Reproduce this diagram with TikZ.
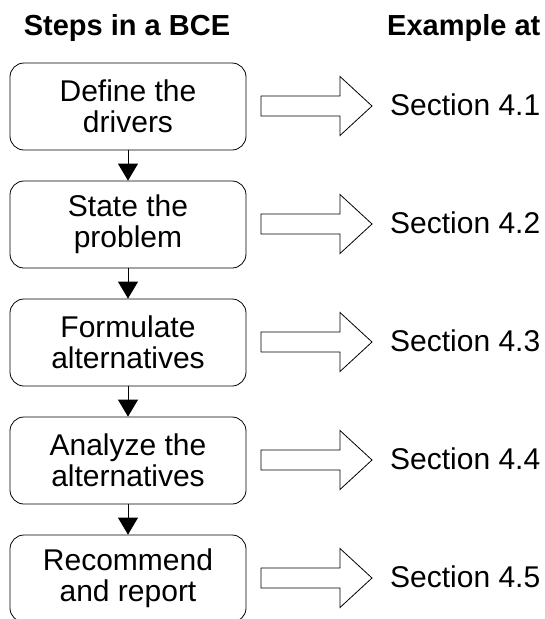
\documentclass[tikz,border=0pt]{standalone}
\usepackage{fontspec}
\setmainfont{Liberation Sans}
\usetikzlibrary{arrows.meta}

\begin{document}
\begin{tikzpicture}[x=1pt,y=-1pt]
        \tikzstyle{every node}+=[inner sep=0pt]
        \tikzstyle{stepbox}=[draw, rounded corners=14pt, minimum width=236pt, minimum height=87pt, align=center, line width=0.8pt, font=\fontsize{30}{31}\selectfont]
        \tikzstyle{flow}=[-{Triangle[length=17pt,width=20pt]}, line width=0.8pt]
        \tikzstyle{bigarrow}=[draw, line width=0.8pt]
        \tikzstyle{secref}=[anchor=base west, font=\fontsize{30}{31}\selectfont]
        \tikzstyle{colhead}=[anchor=base, font=\bfseries\fontsize{29}{30}\selectfont]
        \useasboundingbox (0,0) rectangle (545,619);
        % column headings
        \node [colhead] (steps) at (127,35) {Steps in a BCE};
        \node [colhead, anchor=base west] (example) at (387,35) {Example at};
        % the five steps
        \node [stepbox] (drivers) at (128,106.5) {Define the\\drivers};
        \node [stepbox] (problem) at (128,224.5) {State the\\problem};
        \node [stepbox] (formulate) at (128,342.5) {Formulate\\alternatives};
        \node [stepbox] (analyze) at (128,460.5) {Analyze the\\alternatives};
        \node [stepbox] (recommend) at (128,578.5) {Recommend\\and report};
        \draw [flow] (drivers) -- (problem);
        \draw [flow] (problem) -- (formulate);
        \draw [flow] (formulate) -- (analyze);
        \draw [flow] (analyze) -- (recommend);
        % block arrows
        \draw [bigarrow] (261,96) -- (340,96) -- (340,76.5) -- (372,106) -- (340,135.5) -- (340,116) -- (261,116) -- cycle;
        \draw [bigarrow] (261,214) -- (340,214) -- (340,194.5) -- (372,224) -- (340,253.5) -- (340,234) -- (261,234) -- cycle;
        \draw [bigarrow] (261,332) -- (340,332) -- (340,312.5) -- (372,342) -- (340,371.5) -- (340,352) -- (261,352) -- cycle;
        \draw [bigarrow] (261,450) -- (340,450) -- (340,430.5) -- (372,460) -- (340,489.5) -- (340,470) -- (261,470) -- cycle;
        \draw [bigarrow] (261,568) -- (340,568) -- (340,548.5) -- (372,578) -- (340,607.5) -- (340,588) -- (261,588) -- cycle;
        % section references
        \node [secref] (sec1) at (390,115) {Section 4.1};
        \node [secref] (sec2) at (390,233) {Section 4.2};
        \node [secref] (sec3) at (390,351) {Section 4.3};
        \node [secref] (sec4) at (390,469) {Section 4.4};
        \node [secref] (sec5) at (390,587) {Section 4.5};
\end{tikzpicture}
\end{document}
